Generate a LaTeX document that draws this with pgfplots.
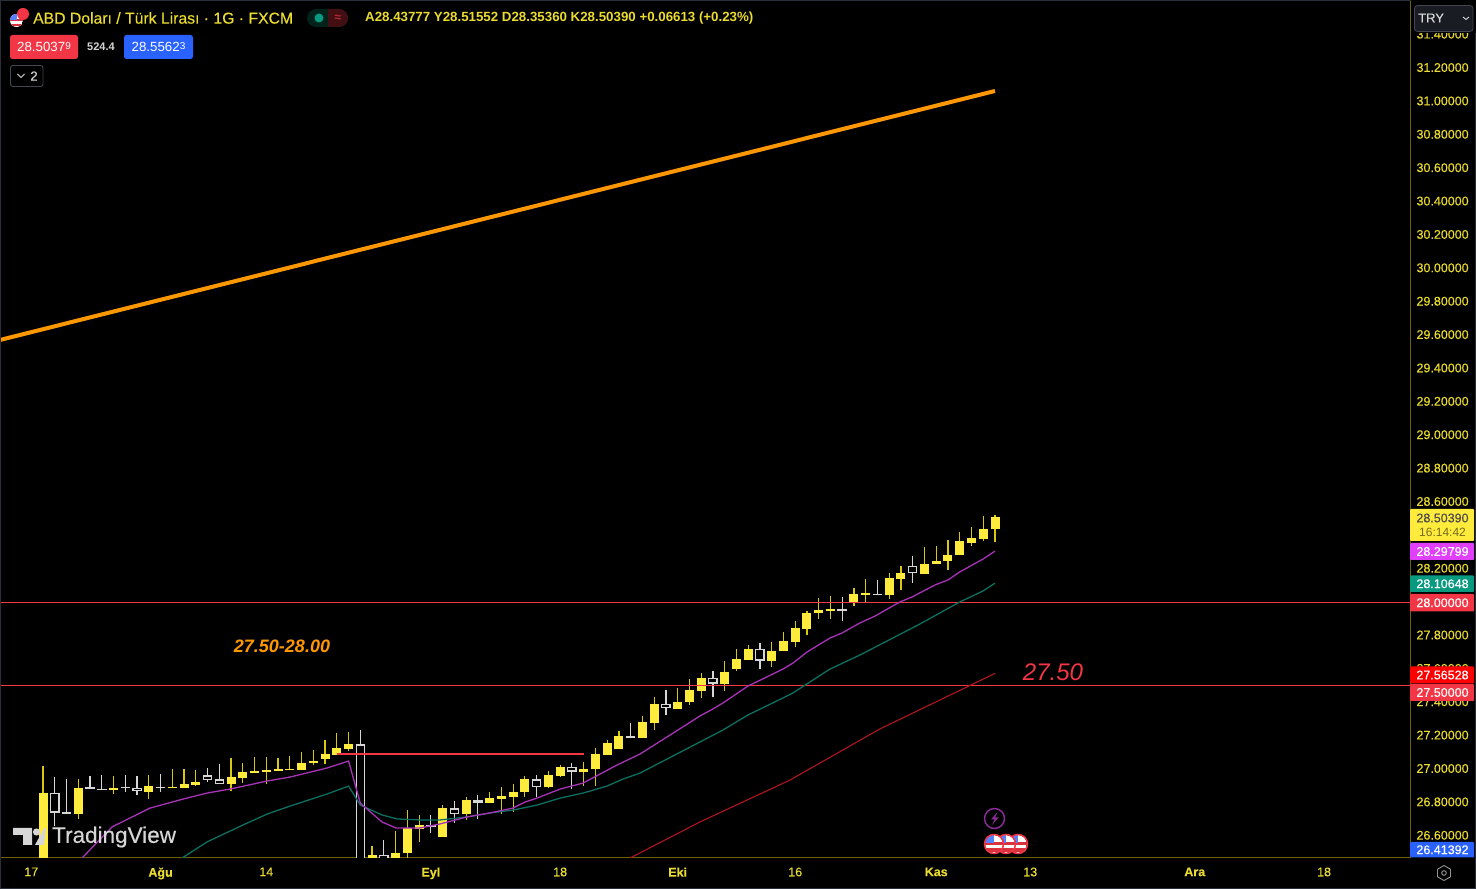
\documentclass[border=0pt]{standalone}
\usepackage{fontspec}
\usepackage{pgfplots}
\usepackage{pgfplotstable}
\pgfplotsset{compat=1.18}
\setmainfont{Liberation Sans}
\newfontfamily\semi[FakeBold=0.35]{Liberation Sans}

\definecolor{tvyellow}{HTML}{FFEB3B}
\definecolor{wickyellow}{HTML}{D8C810}
\definecolor{hollow}{HTML}{D6D6D6}
\definecolor{txtyellow}{HTML}{EADB2E}
\definecolor{axisolive}{HTML}{6E6208}
\definecolor{ema}{HTML}{A832B8}
\definecolor{tealline}{HTML}{0B6F62}
\definecolor{darkred}{HTML}{B2161C}
\definecolor{tvred}{HTML}{F23645}
\definecolor{tvorange}{HTML}{FF9800}
\definecolor{tvblue}{HTML}{2962FF}
\definecolor{tvpurple}{HTML}{E040FB}
\definecolor{tvteal}{HTML}{089981}
\definecolor{rim}{HTML}{2A2E39}
\definecolor{rimlight}{HTML}{434651}

% i high top bottom low
\pgfplotstableread{
i hi top bot lo
0 27.012 26.850 26.40 26.40
3 26.930 26.880 26.723 26.695
6 26.950 26.880 26.864 26.844
9 26.956 26.888 26.852 26.813
11 26.992 26.886 26.876 26.876
12 26.992 26.900 26.880 26.880
13 26.988 26.912 26.894 26.892
16 27.056 26.942 26.902 26.862
17 27.030 26.974 26.938 26.906
18 27.062 26.980 26.968 26.966
19 27.062 26.986 26.976 26.902
20 27.056 26.992 26.980 26.978
21 27.068 26.992 26.986 26.986
22 27.092 27.030 26.988 26.988
23 27.106 27.040 27.026 27.018
24 27.166 27.080 27.050 27.024
25 27.206 27.116 27.076 27.076
26 27.212 27.142 27.112 27.102
28 26.533 26.477 26.40 26.40
30 26.621 26.491 26.40 26.40
31 26.747 26.639 26.487 26.40
32 26.717 26.657 26.635 26.553
34 26.775 26.757 26.585 26.585
36 26.826 26.807 26.721 26.685
38 26.852 26.820 26.791 26.791
39 26.882 26.832 26.815 26.723
40 26.902 26.856 26.826 26.735
41 26.950 26.930 26.852 26.826
43 26.980 26.954 26.882 26.876
44 27.018 27.006 26.950 26.946
46 27.036 26.992 26.976 26.890
47 27.116 27.080 26.990 26.890
48 27.166 27.146 27.076 27.076
49 27.222 27.192 27.112 27.112
51 27.310 27.272 27.178 27.178
52 27.422 27.384 27.266 27.226
54 27.478 27.396 27.354 27.350
55 27.530 27.464 27.392 27.378
56 27.565 27.537 27.460 27.416
58 27.639 27.575 27.504 27.460
59 27.713 27.649 27.591 27.577
60 27.733 27.711 27.647 27.647
62 27.751 27.701 27.641 27.601
63 27.813 27.757 27.697 27.697
64 27.881 27.837 27.751 27.721
65 27.941 27.929 27.833 27.795
66 28.017 27.943 27.927 27.893
67 28.031 27.949 27.939 27.893
69 28.074 28.041 27.984 27.971
70 28.131 28.045 28.037 27.991
72 28.165 28.135 28.033 28.011
73 28.211 28.165 28.131 28.067
75 28.322 28.221 28.161 28.161
76 28.328 28.241 28.219 28.219
77 28.364 28.276 28.237 28.185
78 28.410 28.358 28.273 28.273
79 28.440 28.378 28.348 28.328
80 28.508 28.432 28.372 28.360
81 28.514 28.500 28.428 28.354
}\yellowbars

\pgfplotstableread{
i hi top bot lo
1 26.942 26.850 26.731 26.651
2 26.930 26.733 26.721 26.721
4 26.950 26.886 26.870 26.870
5 26.956 26.872 26.864 26.864
7 26.956 26.882 26.876 26.854
8 26.950 26.880 26.862 26.837
10 26.960 26.886 26.876 26.854
14 27.000 26.954 26.926 26.912
15 27.020 26.930 26.902 26.902
27 27.226 27.140 26.40 26.40
29 26.567 26.477 26.40 26.40
33 26.717 26.659 26.643 26.611
35 26.801 26.757 26.723 26.671
37 26.838 26.807 26.791 26.691
42 26.956 26.930 26.884 26.826
45 27.030 27.006 26.976 26.870
50 27.266 27.192 27.176 27.176
53 27.466 27.384 27.356 27.316
57 27.579 27.537 27.504 27.422
61 27.745 27.711 27.641 27.589
68 28.025 27.949 27.941 27.881
71 28.125 28.041 28.033 28.033
74 28.269 28.209 28.165 28.105
}\whitebars

\newcommand\usflag[3]{% x y r
  \begin{scope}
    \clip (#1,#2) circle[radius=#3];
    \fill[white] (#1-#3,#2-#3) rectangle (#1+#3,#2+#3);
    \fill[tvred!90!black] (#1-#3,#2-0.2*#3) rectangle (#1+#3,#2+0.15*#3);
    \fill[tvred!90!black] (#1-#3,#2+0.5*#3) rectangle (#1+#3,#2+0.85*#3);
    \fill[tvblue!80!white] (#1-#3,#2-#3) rectangle (#1,#2-0.1*#3);
  \end{scope}}
\newcommand\pricetag[4]{% top bottom colour text
  \fill[#3,rounded corners=1pt] (1410,#1) rectangle (1474,#2);
  \node[white,font=\semi\fontsize{12.5}{14}\selectfont] at (1442.5,{(#1+#2)/2}) {#4};}

\begin{document}
\begin{tikzpicture}
\useasboundingbox (0,0) rectangle (1476pt,889pt);
\fill[black] (0,0) rectangle (1476pt,889pt);
\begin{axis}[
  at={(0pt,31pt)}, anchor=south west,
  scale only axis, width=1410pt, height=858pt,
  xmin=-3.659, xmax=116.31, ymin=26.459, ymax=31.6,
  axis x line*=bottom, axis y line*=right,
  axis line style={color=axisolive,line width=1pt,-},
  major tick length=0pt,
  xtick={-1,10,19,33,44,54,64,76,84,98,109},
  xticklabels={17,\textbf{Ağu},14,\textbf{Eyl},18,\textbf{Eki},16,\textbf{Kas},13,\textbf{Ara},18},
  ytick={26.6,26.8,...,31.41},
  tick label style={color=txtyellow,font=\semi\fontsize{12.5}{14}\selectfont},
  xticklabel style={yshift=-6pt},
  yticklabel style={xshift=3pt,yshift=-0.8pt,/pgf/number format/.cd,fixed,fixed zerofill,precision=5,assume math mode=true},
  clip mode=individual,
]
% wicks
\addplot[quiver={u=0,v=\thisrow{hi}-\thisrow{lo}},color=wickyellow,line width=1.2pt,-] table[x=i,y=lo] {\yellowbars};
\addplot[quiver={u=0,v=\thisrow{hi}-\thisrow{lo}},color=hollow,line width=1.2pt,-] table[x=i,y=lo] {\whitebars};
% bodies
\addplot[quiver={u=0,v=\thisrow{top}-\thisrow{bot}},color=tvyellow,line width=9pt,-] table[x=i,y=bot] {\yellowbars};
\addplot[quiver={u=0,v=\thisrow{top}-\thisrow{bot}},color=hollow,line width=9.5pt,-] table[x=i,y=bot] {\whitebars};
\addplot[quiver={u=0,v={max(\thisrow{top}-\thisrow{bot}-0.016,0)}},color=black,line width=7pt,-] table[x=i,y expr=\thisrow{bot}+0.008] {\whitebars};
% levels
\addplot[tvred,line width=1pt] coordinates {(-3.66,27.99) (116.31,27.99)};
\addplot[tvred,line width=1pt] coordinates {(-3.66,27.4926) (116.31,27.4926)};
\addplot[tvred,line width=1.6pt] coordinates {(25,27.082) (46,27.082)};
\addplot[tvorange,line width=4pt] coordinates {(-3.66,29.563) (81,31.055)};
% moving averages
\addplot[darkred,line width=1.1pt] coordinates {(49.95,26.459) (55.9,26.675) (63.56,26.926) (71.2,27.232) (81,27.565)};
\addplot[tealline,line width=1.3pt] coordinates {
(11.83,26.459) (13.95,26.555) (17.02,26.657) (19.06,26.722) (21.02,26.770) (24.16,26.842) (26,26.890)
(27,26.776) (28.84,26.717) (30.12,26.693) (32.08,26.687) (33.78,26.687) (36.08,26.705) (38.03,26.729)
(39.99,26.746) (42.03,26.776) (44,26.818) (45.95,26.848) (47.99,26.890) (49.35,26.932) (50.8,26.968)
(57.86,27.226) (59.98,27.316) (62.96,27.418) (63.81,27.448) (64.84,27.495) (66.96,27.591) (69.5,27.675)
(74.45,27.855) (78,27.993) (79.98,28.059) (81,28.106)};
\addplot[ema,line width=1.3pt] coordinates {
(3.32,26.459) (5.87,26.645) (9.10,26.758) (11.91,26.812) (13.95,26.848) (15.91,26.872) (19.06,26.920)
(21.02,26.944) (24.16,26.998) (26,27.040) (27,26.788) (28.84,26.675) (30.04,26.639) (32.08,26.639)
(33.78,26.663) (36.08,26.705) (38.03,26.729) (39.99,26.758) (41.01,26.794) (42.03,26.818) (44,26.872)
(45.95,26.908) (48.84,27.016) (50.8,27.082) (54.03,27.226) (55.9,27.310) (57,27.352) (57.86,27.388)
(59.98,27.489) (62.96,27.591) (63.81,27.627) (65,27.693) (66.96,27.777) (67.98,27.807) (69.5,27.867)
(70.8,27.909) (72.9,27.993) (73.94,28.023) (75.9,28.095) (77,28.125) (78,28.173) (79.98,28.250) (81,28.298)};
\end{axis}

% overlay, in reference pixels
\begin{scope}[x=1pt,y=-1pt,yshift=889pt]
\draw[rim,line width=1pt] (0.5,0.5) rectangle (1475.5,888.5);

\node[tvorange,font=\itshape\bfseries\fontsize{18}{20}\selectfont] at (282,646) {27.50-28.00};
\node[tvred,font=\itshape\fontsize{24}{26}\selectfont] at (1053,672) {27.50};

% header
\usflag{16.5}{20.5}{6.5}
\fill[tvred] (23,14) circle[radius=6];
\node[anchor=west,inner sep=0,txtyellow,font=\semi\fontsize{15.75}{18}\selectfont] at (33,18) {ABD Doları / Türk Lirası · 1G · FXCM};
\fill[tvteal!22!black,rounded corners=9pt] (307,9) rectangle (348,27);
\begin{scope}
\clip (328,0) rectangle (360,40);
\fill[tvred!28!black,rounded corners=9pt] (307,9) rectangle (348,27);
\end{scope}
\fill[tvteal] (319,18) circle[radius=4.5];
\node[tvred!75!black,font=\bfseries\fontsize{12}{14}\selectfont] at (338,18) {≈};
\node[anchor=west,inner sep=0,txtyellow,font=\bfseries\fontsize{13.3}{15}\selectfont] at (365,18) {A28.43777 Y28.51552 D28.35360 K28.50390 +0.06613 (+0.23\%)};
\fill[tvred,rounded corners=2.5pt] (10,35) rectangle (78,59);
\node[white,font=\fontsize{13.3}{15}\selectfont] at (44,47) {28.5037\raisebox{2.5pt}{\fontsize{10}{11}\selectfont 9}};
\node[hollow,font=\bfseries\fontsize{11}{12}\selectfont] at (101,47) {524.4};
\fill[tvblue,rounded corners=2.5pt] (124,35) rectangle (193,59);
\node[white,font=\fontsize{13.3}{15}\selectfont] at (158.5,47) {28.5562\raisebox{2.5pt}{\fontsize{10}{11}\selectfont 3}};
\draw[rimlight,rounded corners=2.5pt,line width=0.9pt] (10.5,65.5) rectangle (43,86.5);
\draw[hollow,line width=0.9pt] (17.5,74) -- (21,77.5) -- (24.5,74);
\node[hollow,font=\semi\fontsize{13}{14}\selectfont] at (34,76) {2};

% TRY box
\fill[black] (1411,0) rectangle (1476,33);
\filldraw[fill=rim!60!black,draw=rimlight,rounded corners=3pt,line width=0.8pt] (1414.5,5.5) rectangle (1473,31.5);
\node[anchor=west,inner sep=0,hollow,font=\semi\fontsize{13}{14}\selectfont] at (1418,18) {TRY};
\draw[hollow,line width=0.9pt] (1463,17) -- (1466,19.5) -- (1469,17);

% price tags
\fill[tvyellow,rounded corners=1pt] (1410,509) rectangle (1474,541);
\node[black!70,font=\semi\fontsize{12.5}{14}\selectfont] at (1442.5,518) {28.50390};
\node[black!55!tvyellow,font=\fontsize{12}{14}\selectfont] at (1442.5,532) {16:14:42};
\pricetag{543}{560}{tvpurple}{28.29799}
\pricetag{575.5}{592}{tvteal}{28.10648}
\pricetag{594}{611.5}{tvred}{28.00000}
\pricetag{666.5}{683.5}{red}{27.56528}
\pricetag{684}{701}{tvred}{27.50000}
\pricetag{842}{857.5}{tvblue}{26.41392}

% logo
\fill[hollow] (13,828) -- (32,828) -- (32,845) -- (23,845) -- (23,835) -- (13,835) -- cycle;
\fill[hollow] (36.5,832) circle[radius=3.6];
\fill[hollow] (35,845) -- (44,828.5) -- (46,828) -- (44,845) -- cycle;
\node[anchor=west,inner sep=0,hollow,font=\semi\fontsize{22.5}{24}\selectfont] at (52,837) {TradingView};

% events
\draw[ema!85!black,line width=1.4pt] (994.5,818.5) circle[radius=10];
\fill[ema!85!black] (997.5,812) -- (991,819.5) -- (994.5,819.5) -- (992,825) -- (998.5,817.5) -- (995,817.5) -- cycle;
\usflag{1018}{844}{9}
\draw[tvred,line width=1.5pt] (1018,844) circle[radius=9.5];
\usflag{1006}{844}{9}
\draw[tvred,line width=1.5pt] (1006,844) circle[radius=9.5];
\usflag{994}{844}{9}
\draw[tvred,line width=1.5pt] (994,844) circle[radius=9.5];

% settings
\draw[hollow!70!black,line width=0.9pt] (1444,865.5) -- (1450.5,869.2) -- (1450.5,876.8) -- (1444,880.5) -- (1437.5,876.8) -- (1437.5,869.2) -- cycle;
\draw[hollow!70!black,line width=0.9pt] (1444,873) circle[radius=2.3];
\end{scope}
\end{tikzpicture}
\end{document}
